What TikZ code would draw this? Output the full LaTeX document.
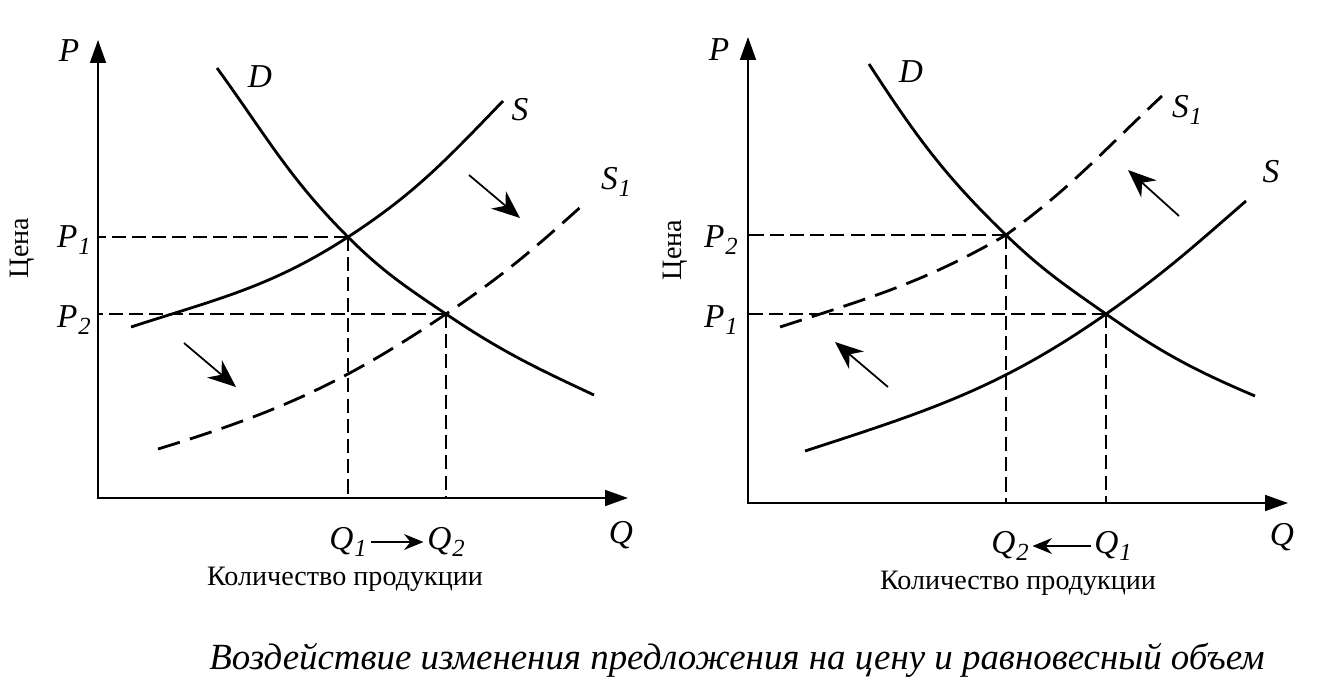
\documentclass[tikz,border=0pt]{standalone}
\usepackage{fontspec}
\setmainfont{Liberation Serif}
\usetikzlibrary{arrows.meta}

\newcommand{\lblsub}[2]{#1\kern0.5pt\raisebox{-0.5ex}{\fontsize{14}{14}\selectfont #2}}

\tikzset{
  curve/.style={line width=1.6pt},
  shifted/.style={line width=1.6pt, dash pattern=on 13pt off 6pt},
  guide/.style={line width=0.8pt, dash pattern=on 8pt off 3.5pt},
  axis/.style={line width=1.1pt, {Triangle[length=13pt,width=9pt]}-{Triangle[length=13pt,width=9pt]}},
  shiftarrow/.style={line width=1pt, -{Stealth[length=16pt,width=13pt]}},
  qarrow/.style={line width=1.2pt, -{Stealth[length=11pt,width=9pt]}, shorten <=2pt, shorten >=2pt},
  lbl/.style={font=\fontsize{19}{19}\selectfont\itshape, inner sep=0pt},
  note/.style={font=\fontsize{16}{16}\selectfont, inner sep=0pt},
}

\begin{document}
\begin{tikzpicture}[x=0.02cm, y=-0.02cm]
  \useasboundingbox (0,0) rectangle (1321,690);

  % ---------- left panel: supply increases ----------
  \coordinate (Ptop1) at (98,40);
  \coordinate (O1) at (98,498);
  \coordinate (Qend1) at (628,498);
  \coordinate (E1) at (348,237);
  \coordinate (E2) at (446,314);

  \draw[axis] (Ptop1) |- (Qend1);

  % guide lines to the axes
  \draw[guide] (E1) -- (E1 -| O1);
  \draw[guide] (E2) -- (E2 -| O1);
  \draw[guide] (E1) -- (E1 |- O1);
  \draw[guide] (E2) -- (E2 |- O1);

  % demand, supply and shifted supply
  \coordinate (Da0) at (217,68);
  \coordinate (Da9) at (594,395);
  \coordinate (Sa0) at (131,327);
  \coordinate (Sa9) at (503,101);
  \coordinate (Ta0) at (158,449);
  \coordinate (Ta9) at (585,203);
  \draw[curve] (Da0) to[out=-54, in=135] (E1) to[out=-45, in=146] (E2) to[out=-34, in=155] (Da9);
  \draw[curve] (Sa0) to[out=18, in=-147] (E1) to[out=33, in=-134] (Sa9);
  \draw[shifted] (Ta0) to[out=17, in=-146] (E2) to[out=34, in=-138] (Ta9);

  % shift arrows
  \coordinate (sa1) at (469,175);
  \coordinate (sa1e) at (520,218);
  \coordinate (sa2) at (184,343);
  \coordinate (sa2e) at (236,387);
  \draw[shiftarrow] (sa1) -- (sa1e);
  \draw[shiftarrow] (sa2) -- (sa2e);

  % labels
  \node[lbl] (Pa) at (69,51) {P};
  \node[lbl] (Qa) at (621,535) {Q};
  \node[lbl] (Da) at (260,77) {D};
  \node[lbl] (Sa) at (520,110) {S};
  \node[lbl] (S1a) at (616,182) {\lblsub{S}{1}};
  \node[lbl] (P1a) at (74,240) {\lblsub{P}{1}};
  \node[lbl] (P2a) at (74,320) {\lblsub{P}{2}};
  \node[lbl] (Q1a) at (348,542) {\lblsub{Q}{1}};
  \node[lbl] (Q2a) at (446,542) {\lblsub{Q}{2}};
  \draw[qarrow] (Q1a) -- (Q2a);
  \node[note, rotate=90] (pricea) at (22,248) {Цена};
  \node[note] (qtya) at (345,579) {Количество продукции};

  % ---------- right panel: supply decreases ----------
  \coordinate (Ptop2) at (748,37);
  \coordinate (O2) at (748,503);
  \coordinate (Qend2) at (1288,503);
  \coordinate (F1) at (1106,314);
  \coordinate (F2) at (1006,235);

  \draw[axis] (Ptop2) |- (Qend2);

  % guide lines to the axes
  \draw[guide] (F1) -- (F1 -| O2);
  \draw[guide] (F2) -- (F2 -| O2);
  \draw[guide] (F1) -- (F1 |- O2);
  \draw[guide] (F2) -- (F2 |- O2);

  % demand, supply and shifted supply
  \coordinate (Db0) at (869,64);
  \coordinate (Db9) at (1255,396);
  \coordinate (Sb0) at (805,451);
  \coordinate (Sb9) at (1246,201);
  \coordinate (Tb0) at (780,327);
  \coordinate (Tb9) at (1162,96);
  \draw[curve] (Db0) to[out=-57, in=136] (F2) to[out=-44, in=145] (F1) to[out=-35, in=157] (Db9);
  \draw[curve] (Sb0) to[out=18, in=-145] (F1) to[out=35, in=-139] (Sb9);
  \draw[shifted] (Tb0) to[out=18, in=-150] (F2) to[out=36, in=-137] (Tb9);

  % shift arrows
  \coordinate (sb1) at (1179,216);
  \coordinate (sb1e) at (1128,170);
  \coordinate (sb2) at (888,387);
  \coordinate (sb2e) at (835,342);
  \draw[shiftarrow] (sb1) -- (sb1e);
  \draw[shiftarrow] (sb2) -- (sb2e);

  % labels
  \node[lbl] (Pb) at (719,50) {P};
  \node[lbl] (Qb) at (1282,537) {Q};
  \node[lbl] (Db) at (911,72) {D};
  \node[lbl] (Sb) at (1271,172) {S};
  \node[lbl] (S1b) at (1187,110) {\lblsub{S}{1}};
  \node[lbl] (P2b) at (721,240) {\lblsub{P}{2}};
  \node[lbl] (P1b) at (721,320) {\lblsub{P}{1}};
  \node[lbl] (Q2b) at (1010,546) {\lblsub{Q}{2}};
  \node[lbl] (Q1b) at (1113,546) {\lblsub{Q}{1}};
  \draw[qarrow] (Q1b) -- (Q2b);
  \node[note, rotate=90] (priceb) at (675,250) {Цена};
  \node[note] (qtyb) at (1018,583) {Количество продукции};

  % caption
  \node[font=\fontsize{21}{21}\selectfont\itshape, inner sep=0pt] (caption) at (737,660)
    {Воздействие изменения предложения на цену и равновесный объем};
\end{tikzpicture}
\end{document}
